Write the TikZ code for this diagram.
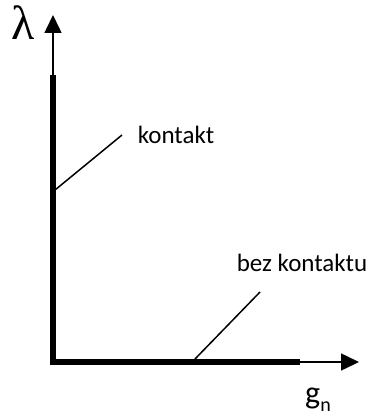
\documentclass[tikz,border=0pt]{standalone}
\usepackage{fontspec}
\setmainfont{Carlito}
\newfontfamily\lamfont{Liberation Serif}
\usetikzlibrary{arrows.meta}
\begin{document}
\begin{tikzpicture}[x=1pt,y=-1pt,
  thickaxis/.style={line width=6pt,line join=miter},
  thinaxis/.style={line width=1.5pt,-{Triangle[length=18pt,width=17pt]}},
  leader/.style={line width=1.5pt},
  lbl/.style={font=\fontsize{25}{30}\selectfont,inner sep=0pt}]
\useasboundingbox (0,0) rectangle (375,417);
\coordinate (top) at (53,75);
\coordinate (corner) at (53,362);
\coordinate (right) at (300,362);
\coordinate (ytip) at (53,15);
\coordinate (xtip) at (359,362);
\draw[thickaxis] (top) -- (corner) -- (right);
\draw[thinaxis] (top) -- (ytip);
\draw[thinaxis] (right) -- (xtip);
\node[inner sep=0pt,font=\lamfont\fontsize{48}{50}\selectfont] (lam) at (23,23) {λ};
\node[inner sep=0pt,anchor=base west,font=\fontsize{32}{36}\selectfont] (gn) at (305,403) {g\raisebox{-8pt}{\fontsize{20}{24}\selectfont n}};
\node[lbl] (k) at (176,135) {kontakt};
\node[lbl] (bk) at (302,263) {bez kontaktu};
\coordinate (k1) at (55,190);
\coordinate (k2) at (122,135);
\coordinate (b1) at (195,359);
\coordinate (b2) at (260,292);
\draw[leader] (k1) -- (k2);
\draw[leader] (b1) -- (b2);
\end{tikzpicture}
\end{document}
